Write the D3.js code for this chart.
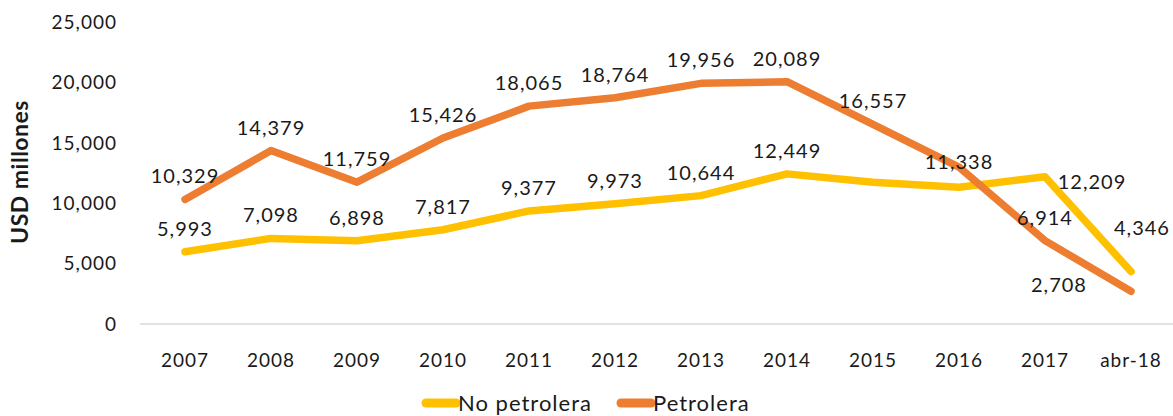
<!DOCTYPE html>
<html>
<head>
<meta charset="utf-8">
<script src="https://cdnjs.cloudflare.com/ajax/libs/d3/7.8.5/d3.min.js"></script>
<style>
  body { margin: 0; background: #fff; }
  text { font-family: Lato, "Open Sans", sans-serif; fill: #1a1a1a; }
</style>
</head>
<body>
<div id="chart"></div>
<script>
// data
var categories = ["2007", "2008", "2009", "2010", "2011", "2012", "2013", "2014", "2015", "2016", "2017", "abr-18"];
var noPetrolera = [5993, 7098, 6898, 7817, 9377, 9973, 10644, 12449, 11750, 11338, 12209, 4346];
var petrolera = [10329, 14379, 11759, 15426, 18065, 18764, 19956, 20089, 16557, 13000, 6914, 2708];
var yTicks = [0, 5000, 10000, 15000, 20000, 25000];

var width = 1173, height = 416;

var svg = d3.select("#chart")
  .append("svg")
    .attr("width", width)
    .attr("height", height);

var x = d3.scalePoint()
  .domain(categories)
  .range([185, 1131]);

var y = d3.scaleLinear()
  .domain([0, 25000])
  .range([324, 22.5]);

var fmt = d3.format(",");

// Y tick labels
svg.selectAll(".ytick")
  .data(yTicks)
  .enter()
  .append("text")
    .attr("x", 117)
    .attr("y", function(d) { return y(d); })
    .attr("dy", "0.35em")
    .attr("text-anchor", "end")
    .style("font-size", "19px")
    .style("letter-spacing", "1px")
    .text(function(d) { return fmt(d); });

// Y axis title
svg.append("text")
  .attr("transform", "translate(28,172) rotate(-90)")
  .attr("text-anchor", "middle")
  .style("font-size", "23px")
  .style("font-weight", "bold")
  .style("letter-spacing", "0.5px")
  .text("USD millones");

// baseline
svg.append("line")
  .attr("x1", 140)
  .attr("x2", width)
  .attr("y1", y(0))
  .attr("y2", y(0))
  .attr("stroke", "#d9d9d9")
  .attr("stroke-width", 1.5);

// X labels
svg.selectAll(".xtick")
  .data(categories)
  .enter()
  .append("text")
    .attr("x", function(d) { return x(d); })
    .attr("y", 360)
    .attr("dy", "0.35em")
    .attr("text-anchor", "middle")
    .style("font-size", "19px")
    .style("letter-spacing", "1px")
    .text(function(d) { return d; });

var line = d3.line()
  .x(function(d, i) { return x(categories[i]); })
  .y(function(d) { return y(d); });

var series = [
  { name: "No petrolera", values: noPetrolera, color: "#FFC000",
    hide: [8],
    offsets: { 9: [0, -25], 10: [47, 5], 11: [11, -44] } },
  { name: "Petrolera", values: petrolera, color: "#ED7D31",
    hide: [9],
    offsets: { 11: [-72, -6] } }
];

series.forEach(function(s) {
  svg.append("path")
    .datum(s.values)
    .attr("d", line)
    .attr("fill", "none")
    .attr("stroke", s.color)
    .attr("stroke-width", 7.5)
    .attr("stroke-linecap", "round")
    .attr("stroke-linejoin", "round");
});

// data labels on top
series.forEach(function(s) {
  var pts = s.values.map(function(v, i) { return { v: v, i: i }; })
    .filter(function(p) { return s.hide.indexOf(p.i) < 0; });
  svg.selectAll(null)
    .data(pts)
    .enter()
    .append("text")
      .attr("x", function(p) {
        var o = s.offsets[p.i] || [0, -23];
        return x(categories[p.i]) + o[0];
      })
      .attr("y", function(p) {
        var o = s.offsets[p.i] || [0, -23];
        return y(p.v) + o[1];
      })
      .attr("dy", "0.35em")
      .attr("text-anchor", "middle")
      .style("font-size", "20px")
      .style("letter-spacing", "1px")
      .text(function(p) { return fmt(p.v); });
});

// legend
var legend = [
  { name: "No petrolera", color: "#FFC000", x: 422 },
  { name: "Petrolera", color: "#ED7D31", x: 617 }
];
legend.forEach(function(l) {
  svg.append("line")
    .attr("x1", l.x + 4)
    .attr("x2", l.x + 34)
    .attr("y1", 403)
    .attr("y2", 403)
    .attr("stroke", l.color)
    .attr("stroke-width", 9)
    .attr("stroke-linecap", "round");
  svg.append("text")
    .attr("x", l.x + 36)
    .attr("y", 403)
    .attr("dy", "0.35em")
    .style("font-size", "22px")
    .style("letter-spacing", "1px")
    .text(l.name);
});
</script>
</body>
</html>
